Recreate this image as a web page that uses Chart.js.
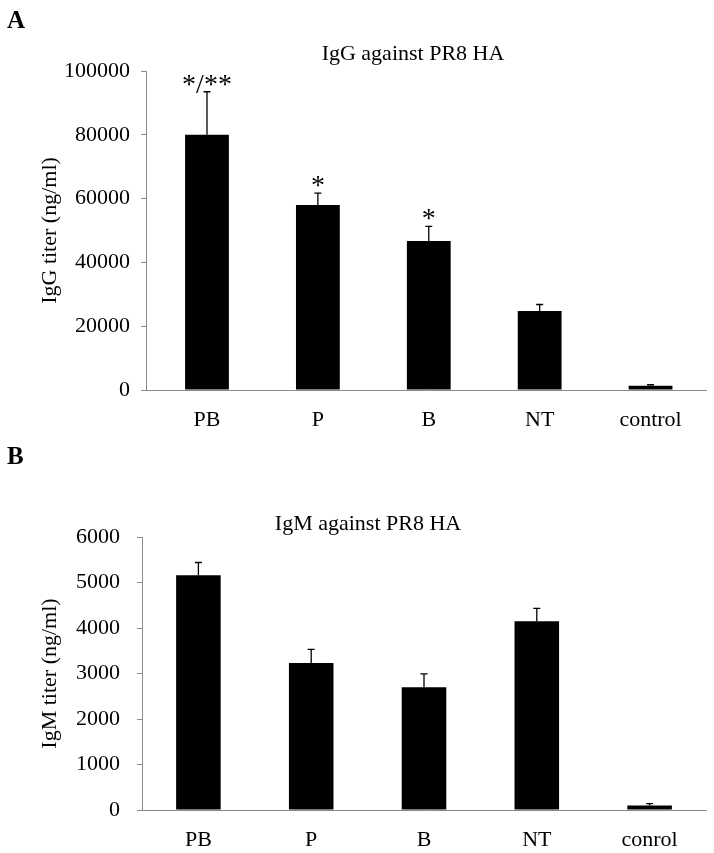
<!DOCTYPE html>
<html>
<head>
<meta charset="utf-8">
<script src="https://cdn.jsdelivr.net/npm/chart.js@4.4.0/dist/chart.umd.min.js"></script>
<style>
  html, body { margin: 0; padding: 0; background: #fff; }
  .panel { position: absolute; left: 0; width: 714px; }
  #panelA { top: 0; height: 430px; }
  #panelB { top: 430px; height: 423px; }
</style>
</head>
<body>
<div class="panel" id="panelA"><canvas id="chartA"></canvas></div>
<div class="panel" id="panelB"><canvas id="chartB"></canvas></div>
<script>
// groups on the x axis (panel B really says "conrol" in the figure)
const groupsA = ['PB', 'P', 'B', 'NT', 'control'];
const groupsB = ['PB', 'P', 'B', 'NT', 'conrol'];

// A: IgG titer, ng/ml (mean and upper error)
const iggMean = [80000, 58000, 46700, 24800, 1300];
const iggErr = [13500, 3700, 4600, 2000, 350];
const iggStars = ['*/**', '*', '*', '', ''];
const iggTicks = [0, 20000, 40000, 60000, 80000, 100000];

// B: IgM titer, ng/ml
const igmMean = [5160, 3230, 2700, 4150, 100];
const igmErr = [280, 300, 290, 280, 40];
const igmStars = ['', '', '', '', ''];
const igmTicks = [0, 1000, 2000, 3000, 4000, 5000, 6000];

const SERIF = "'Liberation Serif', 'Times New Roman', serif";
const AXIS = '#8a8a8a';
const font22 = { family: SERIF, size: 22 };

// error bars, significance marks, panel letter and chart title
const extras = {
  id: 'extras',
  afterDatasetsDraw(chart, args, opts) {
    const { ctx } = chart;
    const y = chart.scales.y;
    const ds = chart.data.datasets[0];
    const meta = chart.getDatasetMeta(0);
    ctx.save();
    ctx.strokeStyle = '#000';
    ctx.fillStyle = '#000';
    ctx.lineWidth = 1.3;
    meta.data.forEach((bar, i) => {
      const top = y.getPixelForValue(ds.data[i].y + ds.errors[i]);
      ctx.beginPath();
      ctx.moveTo(bar.x, bar.y);
      ctx.lineTo(bar.x, top);
      ctx.moveTo(bar.x - 3.5, top);
      ctx.lineTo(bar.x + 3.5, top);
      ctx.stroke();
      if (ds.stars[i]) {
        ctx.font = '28px ' + SERIF;
        ctx.textAlign = 'center';
        ctx.textBaseline = 'alphabetic';
        ctx.fillText(ds.stars[i], bar.x, top + 1);
      }
    });
    ctx.textBaseline = 'alphabetic';
    ctx.font = '22px ' + SERIF;
    ctx.textAlign = 'center';
    ctx.fillText(opts.title, opts.titleX, opts.titleY);
    ctx.font = 'bold 25px ' + SERIF;
    ctx.textAlign = 'left';
    ctx.fillText(opts.letter, 7, opts.letterY);
    ctx.restore();
  }
};

function makeChart(id, c) {
  return new Chart(document.getElementById(id), {
    type: 'bar',
    data: {
      datasets: [{
        data: c.means.map((v, i) => ({ x: i, y: v })),
        errors: c.err,
        stars: c.stars,
        backgroundColor: '#000',
        barPercentage: 0.395,
        categoryPercentage: 1
      }]
    },
    plugins: [extras],
    options: {
      responsive: true, maintainAspectRatio: false, animation: false,
      layout: { padding: c.padding },
      plugins: {
        legend: { display: false },
        tooltip: { enabled: false },
        extras: { title: c.title, titleX: c.titleX, titleY: c.titleY, letter: c.letter, letterY: c.letterY }
      },
      scales: {
        x: {
          type: 'linear', offset: false, min: c.xMin, max: c.labels.length - 0.5,
          grid: { display: false },
          border: { display: true, color: AXIS, width: 1 },
          ticks: { padding: 9, font: font22, color: '#000', callback: v => c.labels[v] ?? '' },
          afterBuildTicks: ax => { ax.ticks = c.labels.map((_, i) => ({ value: i })); },
          afterFit: ax => { ax.height = c.xAxisH; }
        },
        y: {
          min: c.ticks[0], max: c.ticks[c.ticks.length - 1],
          afterBuildTicks: ax => { ax.ticks = c.ticks.map(v => ({ value: v })); },
          grid: { drawOnChartArea: false, drawTicks: true, tickLength: 5, color: AXIS },
          border: { display: true, color: AXIS, width: 1 },
          ticks: { padding: c.tickPad, font: font22, color: '#000', callback: v => String(v) },
          title: { display: true, text: c.yTitle, font: font22, color: '#000', padding: { top: 7, bottom: 0 } },
          afterFit: ax => { ax.width = c.yAxisW; }
        }
      }
    }
  });
}

makeChart('chartA', {
  labels: groupsA, means: iggMean, err: iggErr, stars: iggStars, ticks: iggTicks,
  yTitle: 'IgG titer (ng/ml)', title: 'IgG against PR8 HA', letter: 'A',
  titleX: 413, titleY: 60, letterY: 28,
  xMin: -0.55, padding: { left: 30, top: 71, right: 8, bottom: 0 },
  yAxisW: 116, xAxisH: 40, tickPad: 11
});

makeChart('chartB', {
  labels: groupsB, means: igmMean, err: igmErr, stars: igmStars, ticks: igmTicks,
  yTitle: 'IgM titer (ng/ml)', title: 'IgM against PR8 HA', letter: 'B',
  titleX: 368, titleY: 100, letterY: 34,
  xMin: -0.5, padding: { left: 30, top: 107, right: 8, bottom: 0 },
  yAxisW: 112, xAxisH: 43, tickPad: 17
});
</script>
</body>
</html>
